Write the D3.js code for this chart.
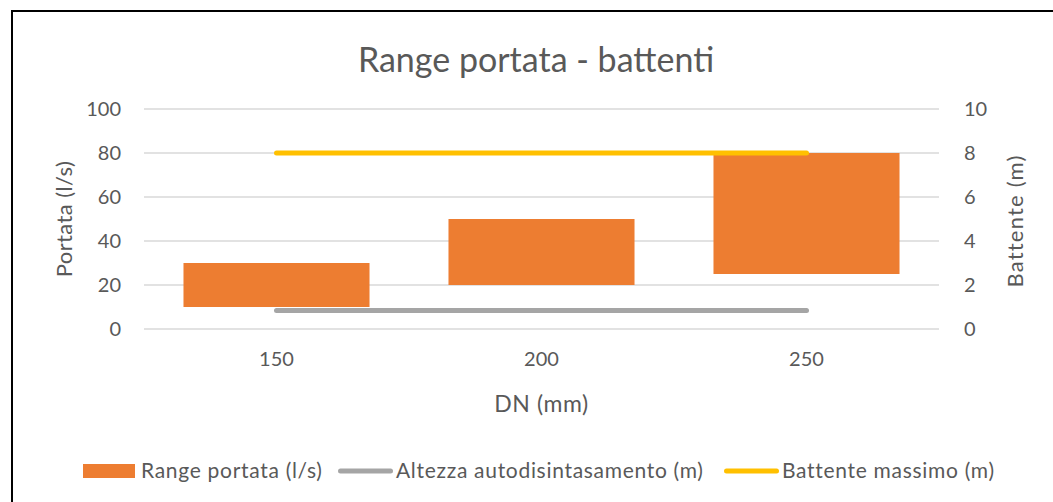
<!DOCTYPE html>
<head>
<meta charset="utf-8">
<title>Range portata - battenti</title>
<style>
body {
  margin: 0;
  padding: 0;
  background: #fff;
  font-family: Lato, sans-serif;
}
svg text {
  fill: #595959;
  font-family: Lato, sans-serif;
}
.grid line {
  stroke: #d9d9d9;
  stroke-width: 1.5;
}
</style>
</head>
<body>
<svg id="chart" width="1053" height="502"></svg>
<script src="https://d3js.org/d3.v7.min.js"></script>
<script>

// data
var categories = ['150', '200', '250']
var portataMin = [10, 20, 25]      // l/s, bottom of the floating bar
var portataMax = [30, 50, 80]      // l/s, top of the floating bar
var altezzaAuto = [0.84, 0.84, 0.84] // m
var battenteMax = [8, 8, 8]        // m
var leftTicks = [0, 20, 40, 60, 80, 100]
var rightTicks = [0, 2, 4, 6, 8, 10]

var colors = { range: '#ed7d31', altezza: '#a5a5a5', battente: '#ffc000' }

var svg = d3.select('#chart')

// chart frame (only top and left edges fall inside the window)
svg.append('rect')
  .attr('x', 12).attr('y', 11)
  .attr('width', 1200).attr('height', 700)
  .attr('fill', 'none')
  .attr('stroke', '#000')
  .attr('stroke-width', 2)

var plot = { left: 144, right: 939, top: 109, bottom: 329 }

var x = d3.scaleBand()
  .domain(categories)
  .range([plot.left, plot.right])
  .paddingInner(0.298)
  .paddingOuter(0.149)

var yL = d3.scaleLinear().domain([0, 100]).range([plot.bottom, plot.top])
var yR = d3.scaleLinear().domain([0, 10]).range([plot.bottom, plot.top])

// gridlines
svg.append('g')
  .attr('class', 'grid')
  .selectAll('line')
  .data(leftTicks)
  .enter().append('line')
    .attr('x1', plot.left).attr('x2', plot.right)
    .attr('y1', function(d) { return yL(d) })
    .attr('y2', function(d) { return yL(d) })

function styleAxis(g) {
  g.attr('font-family', null).attr('font-size', null)
  g.select('.domain').remove()
  g.selectAll('text').style('font-size', '20px').attr('fill', '#595959')
}

// left axis
svg.append('g')
  .attr('transform', 'translate(' + (plot.left - 23) + ',0)')
  .call(d3.axisLeft(yL).tickValues(leftTicks).tickSize(0).tickPadding(0))
  .call(styleAxis)

// right axis
svg.append('g')
  .attr('transform', 'translate(' + (plot.right + 25) + ',0)')
  .call(d3.axisRight(yR).tickValues(rightTicks).tickSize(0).tickPadding(0))
  .call(styleAxis)

// bottom axis
svg.append('g')
  .attr('transform', 'translate(0,' + (plot.bottom + 23) + ')')
  .call(d3.axisBottom(x).tickSize(0).tickPadding(0))
  .call(styleAxis)

// floating bars
svg.append('g')
  .selectAll('rect')
  .data(categories)
  .enter().append('rect')
    .attr('x', function(d) { return x(d) })
    .attr('width', x.bandwidth())
    .attr('y', function(d, i) { return yL(portataMax[i]) })
    .attr('height', function(d, i) { return yL(portataMin[i]) - yL(portataMax[i]) })
    .attr('fill', colors.range)

var line = function(vals) {
  return d3.line()
    .x(function(d) { return x(d) + x.bandwidth() / 2 })
    .y(function(d, i) { return yR(vals[i]) })(categories)
}

svg.append('path')
  .attr('d', line(altezzaAuto))
  .attr('fill', 'none')
  .attr('stroke', colors.altezza)
  .attr('stroke-width', 5)
  .attr('stroke-linecap', 'round')

svg.append('path')
  .attr('d', line(battenteMax))
  .attr('fill', 'none')
  .attr('stroke', colors.battente)
  .attr('stroke-width', 5)
  .attr('stroke-linecap', 'round')

// title
svg.append('text')
  .attr('x', 536).attr('y', 72)
  .attr('text-anchor', 'middle')
  .style('font-size', '34px')
  .text('Range portata - battenti')

// axis titles
svg.append('text')
  .attr('transform', 'translate(72,' + ((plot.top + plot.bottom) / 2) + ') rotate(-90)')
  .attr('text-anchor', 'middle')
  .style('font-size', '22px')
  .style('letter-spacing', '0.4px')
  .text('Portata (l/s)')

svg.append('text')
  .attr('transform', 'translate(1023,' + ((plot.top + plot.bottom) / 2 + 2) + ') rotate(-90)')
  .attr('text-anchor', 'middle')
  .style('font-size', '22px')
  .style('letter-spacing', '1.2px')
  .text('Battente (m)')

svg.append('text')
  .attr('x', (plot.left + plot.right) / 2).attr('y', 412)
  .attr('text-anchor', 'middle')
  .style('font-size', '23px')
  .style('letter-spacing', '0.6px')
  .text('DN (mm)')

// legend
var legendY = 471
var legend = [
  { label: 'Range portata (l/s)', type: 'rect', color: colors.range, x: 83 },
  { label: 'Altezza autodisintasamento (m)', type: 'line', color: colors.altezza, x: 338 },
  { label: 'Battente massimo (m)', type: 'line', color: colors.battente, x: 724 }
]

var item = svg.append('g').selectAll('g')
  .data(legend)
  .enter().append('g')
    .attr('transform', function(d) { return 'translate(' + d.x + ',' + legendY + ')' })

item.filter(function(d) { return d.type === 'rect' })
  .append('rect')
    .attr('x', 0).attr('y', -7)
    .attr('width', 52).attr('height', 14)
    .attr('fill', function(d) { return d.color })

item.filter(function(d) { return d.type === 'line' })
  .append('line')
    .attr('x1', 2.5).attr('x2', 52.5)
    .attr('y1', 0).attr('y2', 0)
    .attr('stroke', function(d) { return d.color })
    .attr('stroke-width', 5)
    .attr('stroke-linecap', 'round')

item.append('text')
  .attr('x', 58)
  .attr('dy', '0.35em')
  .style('font-size', '21px')
  .style('letter-spacing', '0.7px')
  .text(function(d) { return d.label })

</script>
</body>
</html>
